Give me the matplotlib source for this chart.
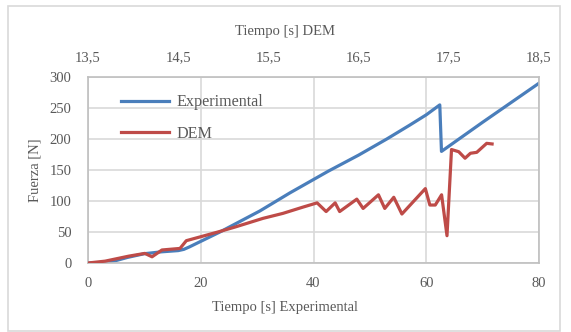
import matplotlib
matplotlib.use("Agg")
import matplotlib.pyplot as plt
from matplotlib.ticker import FixedLocator, FuncFormatter
from matplotlib.patches import Rectangle

# Experimental series (time in s, force in N)
exp_t = [0, 3, 5, 7, 10, 13, 16, 17, 18, 23.4, 30.5, 35.8, 42.6, 48, 53, 57, 60, 62.4, 62.7,
         70, 80]
exp_f = [0, 1, 4, 9, 15, 18, 20, 22, 26, 50, 84, 113, 148, 174, 200, 222, 239, 255, 180,
         227, 290]

# DEM series (time in s on top axis, force in N)
dem_t = [13.5, 13.69, 13.95, 14.13, 14.21, 14.32, 14.52, 14.59, 14.74, 14.94, 15.13, 15.44,
         15.66, 15.88, 16.04, 16.14, 16.24, 16.29, 16.48, 16.55, 16.72, 16.79, 16.89, 16.98,
         17.24, 17.29, 17.35, 17.42, 17.48, 17.53, 17.61, 17.68, 17.74, 17.81, 17.92, 17.98]
dem_f = [0, 3, 11, 15.5, 10, 21, 23.5, 36, 42, 50, 58, 72, 80, 90, 97, 83, 97, 83, 103, 88,
         110, 88, 106, 79, 120, 93.5, 93.5, 110, 44, 183, 179.5, 169, 177, 178.5, 193, 192]

y_ticks = [0, 50, 100, 150, 200, 250, 300]
x_ticks = [0, 20, 40, 60, 80]
top_ticks = [13.5, 14.5, 15.5, 16.5, 17.5, 18.5]

plt.rcParams['font.family'] = ['Liberation Serif', 'DejaVu Serif']
txt = '#595959'
grid_c = '#D9D9D9'
blue = '#4A7EBB'
red = '#BE4B48'
fs = 10.5

W, H = 571, 332
fig = plt.figure(figsize=(W / 100, H / 100), dpi=100)
fig.patches.append(Rectangle((8 / W, 1 / H), 552 / W, 325 / H, transform=fig.transFigure,
                             fill=False, edgecolor='#D9D9D9', linewidth=1.2))

ax = fig.add_axes([88 / W, 1 - 263 / H, 451 / W, 186 / H])
ax.plot(exp_t, exp_f, color=blue, linewidth=2.3, label='Experimental', solid_joinstyle='round')
ax.set_xlim(0, 80)
ax.set_ylim(0, 300)
ax.xaxis.set_major_locator(FixedLocator(x_ticks))
ax.yaxis.set_major_locator(FixedLocator(y_ticks))
ax.grid(True, color=grid_c, linewidth=1.2)
ax.set_axisbelow(True)
for s in ax.spines.values():
    s.set_color('#BFBFBF')
    s.set_linewidth(1.2)
ax.tick_params(axis='x', length=0, labelsize=fs, labelcolor=txt, pad=10)
ax.tick_params(axis='y', length=0, labelsize=fs, labelcolor=txt, pad=12)

ax2 = ax.twiny()
ax2.plot(dem_t, dem_f, color=red, linewidth=2.3, label='DEM', solid_joinstyle='round')
ax2.set_xlim(13.5, 18.5)
ax2.xaxis.set_major_locator(FixedLocator(top_ticks))
ax2.xaxis.set_major_formatter(FuncFormatter(lambda v, p: f'{v:.1f}'.replace('.', ',')))
ax2.tick_params(length=0, labelsize=fs, labelcolor=txt, pad=9)
for s in ax2.spines.values():
    s.set_visible(False)

fig.text(285 / W, 1 - 308 / H, 'Tiempo [s] Experimental', fontsize=fs, color=txt,
         ha='center', va='center')
fig.text(285 / W, 1 - 32 / H, 'Tiempo [s] DEM', fontsize=fs, color=txt,
         ha='center', va='center')
fig.text(35 / W, 1 - 170 / H, 'Fuerza [N]', fontsize=fs, color=txt, rotation=90,
         ha='center', va='center')

h1, l1 = ax.get_legend_handles_labels()
h2, l2 = ax2.get_legend_handles_labels()
ax2.legend(h1 + h2, l1 + l2, loc='upper left', bbox_to_anchor=(0.04, 0.985), frameon=False,
           fontsize=11.6, labelcolor=txt, handlelength=3.0, handletextpad=0.45, labelspacing=0.95)

fig.savefig('out.png', dpi=100)
